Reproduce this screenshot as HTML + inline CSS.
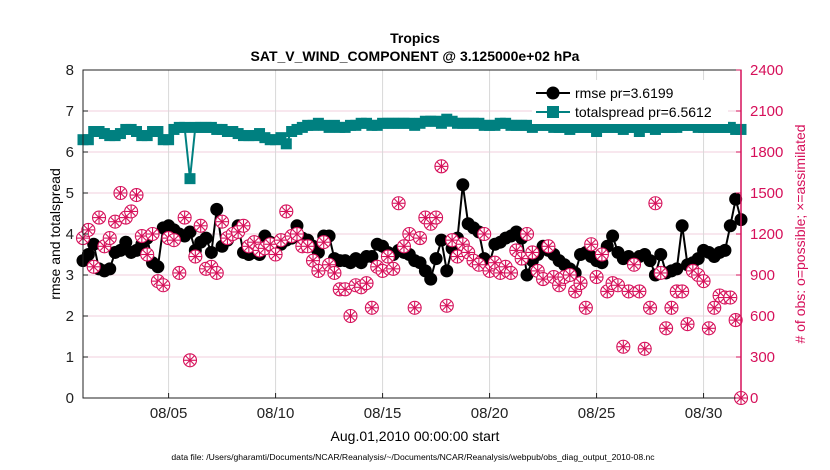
<!DOCTYPE html>
<html><head><meta charset="utf-8"><style>
body{margin:0;background:#fff;}
svg{display:block;font-family:"Liberation Sans",sans-serif;}
</style></head><body>
<svg id="chart" width="830" height="470">
<rect width="830" height="470" fill="#fff"/>
<text x="415" y="43" text-anchor="middle" font-size="14" font-weight="bold">Tropics</text>
<text x="415" y="61" text-anchor="middle" font-size="14" font-weight="bold">SAT_V_WIND_COMPONENT @ 3.125000e+02 hPa</text>
<g id="grid"></g>
<g id="series"></g>
<g id="axes"></g>
<text transform="translate(60,234) rotate(-90)" text-anchor="middle" font-size="14">rmse and totalspread</text>
<text transform="translate(805,234) rotate(-90)" text-anchor="middle" font-size="14" fill="#d6105a"># of obs: o=possible; ×=assimilated</text>
<text x="415" y="441" text-anchor="middle" font-size="14">Aug.01,2010 00:00:00 start</text>
<text x="413" y="460" text-anchor="middle" font-size="8.6">data file: /Users/gharamti/Documents/NCAR/Reanalysis/~/Documents/NCAR/Reanalysis/webpub/obs_diag_output_2010-08.nc</text>
<g>
<rect x="532" y="80" width="196" height="44" fill="#fff"/>
<g><line x1="536" y1="93" x2="570" y2="93" stroke="#000" stroke-width="2"/><circle cx="553" cy="93" r="6.5" fill="#000"/><text x="575" y="98" font-size="14">rmse pr=3.6199</text></g>
<g><line x1="536" y1="112" x2="570" y2="112" stroke="#008080" stroke-width="2"/><rect x="547" y="106" width="12" height="12" fill="#008080"/><text x="575" y="117" font-size="14">totalspread pr=6.5612</text></g>
</g>
</svg>
<script>
const rmse=[3.35,3.5,3.75,3.15,3.1,3.15,3.55,3.6,3.8,3.55,3.6,3.75,3.9,3.3,3.2,4.15,4.2,4.1,4.0,3.95,4.05,3.6,3.8,3.9,3.55,4.6,3.7,3.85,4.0,4.2,3.55,3.5,3.55,3.5,3.95,3.8,3.7,3.75,3.85,3.9,4.2,3.9,3.85,3.7,3.55,3.95,3.95,3.4,3.35,3.35,3.3,3.4,3.3,3.45,3.45,3.75,3.7,3.55,3.5,3.6,3.55,3.5,3.35,3.3,3.1,2.9,3.4,3.85,3.1,3.65,3.9,5.2,4.25,4.15,4.05,3.4,3.3,3.75,3.8,3.9,3.95,4.05,3.9,3.0,3.35,3.5,3.7,3.6,3.5,3.35,3.25,3.15,3.05,3.5,3.55,3.45,3.35,3.3,3.7,3.95,3.55,3.4,3.45,3.35,3.45,3.5,3.35,3.0,3.5,3.05,3.1,3.15,4.2,3.25,3.3,3.4,3.6,3.55,3.45,3.55,3.6,4.2,4.85,4.35];
const totalspread=[6.3,6.3,6.5,6.5,6.45,6.4,6.4,6.45,6.55,6.55,6.5,6.4,6.4,6.5,6.5,6.3,6.3,6.55,6.6,6.6,5.35,6.6,6.6,6.6,6.6,6.55,6.55,6.5,6.5,6.45,6.4,6.4,6.4,6.45,6.35,6.3,6.3,6.35,6.2,6.5,6.55,6.6,6.65,6.65,6.7,6.65,6.6,6.65,6.6,6.6,6.65,6.65,6.7,6.7,6.65,6.65,6.7,6.7,6.7,6.7,6.7,6.7,6.65,6.7,6.75,6.75,6.75,6.7,6.8,6.75,6.7,6.7,6.7,6.7,6.7,6.65,6.65,6.65,6.7,6.7,6.65,6.65,6.65,6.65,6.6,6.65,6.65,6.65,6.6,6.6,6.6,6.55,6.6,6.6,6.6,6.6,6.5,6.6,6.6,6.6,6.6,6.55,6.6,6.6,6.5,6.6,6.6,6.55,6.6,6.6,6.6,6.6,6.65,6.65,6.65,6.6,6.6,6.6,6.6,6.6,6.6,6.6,6.55,6.55];
const obsCount=[1170,1230,960,1320,1110,1170,1290,1500,1320,1365,1485,1185,1050,1200,855,825,1170,1155,915,1320,276,1035,1260,945,960,915,1290,1170,1200,1215,1260,1110,1140,1080,1095,1125,1050,1155,1365,1185,1200,1110,1110,1005,930,1140,975,915,795,795,600,825,810,840,660,960,930,1035,945,1425,1110,1200,660,1170,1320,1275,1320,1695,675,1155,1035,1125,1065,1005,975,1200,930,990,915,960,915,1080,1020,1200,1065,930,870,1110,885,825,885,900,780,840,660,1125,885,1050,780,840,825,375,780,975,780,360,660,1425,915,510,660,780,780,540,930,900,855,510,660,750,735,735,570,0];
const leftTicks=[0,1,2,3,4,5,6,7,8];
const rightTicks=[0,300,600,900,1200,1500,1800,2100,2400];
const xTickDays=[4,9,14,19,24,29];
const xTickLabels=["08/05","08/10","08/15","08/20","08/25","08/30"];
const stepDays=0.25;

const X0=83,X1=741,Y0=398,Y1=70,DAYS=30.75;
const xs=d=>X0+d/DAYS*(X1-X0);
const yL=v=>Y0-v/8*(Y0-Y1);
const yR=c=>Y0-c/2400*(Y0-Y1);
const NS="http://www.w3.org/2000/svg";
function mk(tag,attrs,parent){const e=document.createElementNS(NS,tag);for(const k in attrs)e.setAttribute(k,attrs[k]);parent.appendChild(e);return e;}
const grid=document.getElementById('grid'),ser=document.getElementById('series'),ax=document.getElementById('axes');
leftTicks.forEach(v=>{if(v>0&&v<8){const l=mk('line',{x1:X0,x2:X1,y1:yL(v),y2:yL(v),stroke:'#f2cfdc','stroke-width':1},grid);

}});
xTickDays.forEach(d=>{const l=mk('line',{x1:xs(d),x2:xs(d),y1:Y1,y2:Y0,stroke:'#d8d8d8','stroke-width':1},grid);

});
let p='';totalspread.forEach((v,i)=>{p+=(i?'L':'M')+xs(i*stepDays).toFixed(1)+' '+yL(v).toFixed(1);});
const tl=mk('path',{d:p,fill:'none',stroke:'#008080','stroke-width':2},ser);


totalspread.forEach((v,i)=>{const r=mk('rect',{x:xs(i*stepDays)-5.5,y:yL(v)-5.5,width:11,height:11,fill:'#008080'},ser);

});
p='';rmse.forEach((v,i)=>{p+=(i?'L':'M')+xs(i*stepDays).toFixed(1)+' '+yL(v).toFixed(1);});
const rl=mk('path',{d:p,fill:'none',stroke:'#000','stroke-width':2},ser);


rmse.forEach((v,i)=>{const c=mk('circle',{cx:xs(i*stepDays),cy:yL(v),r:6.5,fill:'#000'},ser);

});
obsCount.forEach((c,i)=>{const cx=xs(i*stepDays),cy=yR(c);const g=mk('g',{stroke:'#d6105a','stroke-width':1.1,fill:'none'},ser);


mk('circle',{cx:cx,cy:cy,r:6.5,fill:'#fff'},g);
for(let a=0;a<4;a++){const t=a*Math.PI/4,dx=6*Math.cos(t),dy=6*Math.sin(t);mk('line',{x1:cx-dx,y1:cy-dy,x2:cx+dx,y2:cy+dy},g);}});
const frame=mk('rect',{x:X0,y:Y1,width:X1-X0,height:Y0-Y1,fill:'none',stroke:'#222','stroke-width':1},ax);


const ra=mk('line',{x1:X1,x2:X1,y1:Y1,y2:Y0,stroke:'#d6105a','stroke-width':1.5},ax);


leftTicks.forEach(v=>{const t=mk('text',{x:X0-9,y:yL(v)+5,'text-anchor':'end','font-size':15,fill:'#222'},ax);t.textContent=v;


mk('line',{x1:X0,x2:X0+5,y1:yL(v),y2:yL(v),stroke:'#222'},ax);});
rightTicks.forEach(c=>{const t=mk('text',{x:X1+9,y:yR(c)+5,'font-size':15,fill:'#d6105a'},ax);t.textContent=c;


mk('line',{x1:X1-5,x2:X1,y1:yR(c),y2:yR(c),stroke:'#d6105a'},ax);});
xTickDays.forEach((d,i)=>{const t=mk('text',{x:xs(d),y:418,'text-anchor':'middle','font-size':15,fill:'#222'},ax);t.textContent=xTickLabels[i];


mk('line',{x1:xs(d),x2:xs(d),y1:Y0,y2:Y0-5,stroke:'#222'},ax);});
</script>
</body></html>
